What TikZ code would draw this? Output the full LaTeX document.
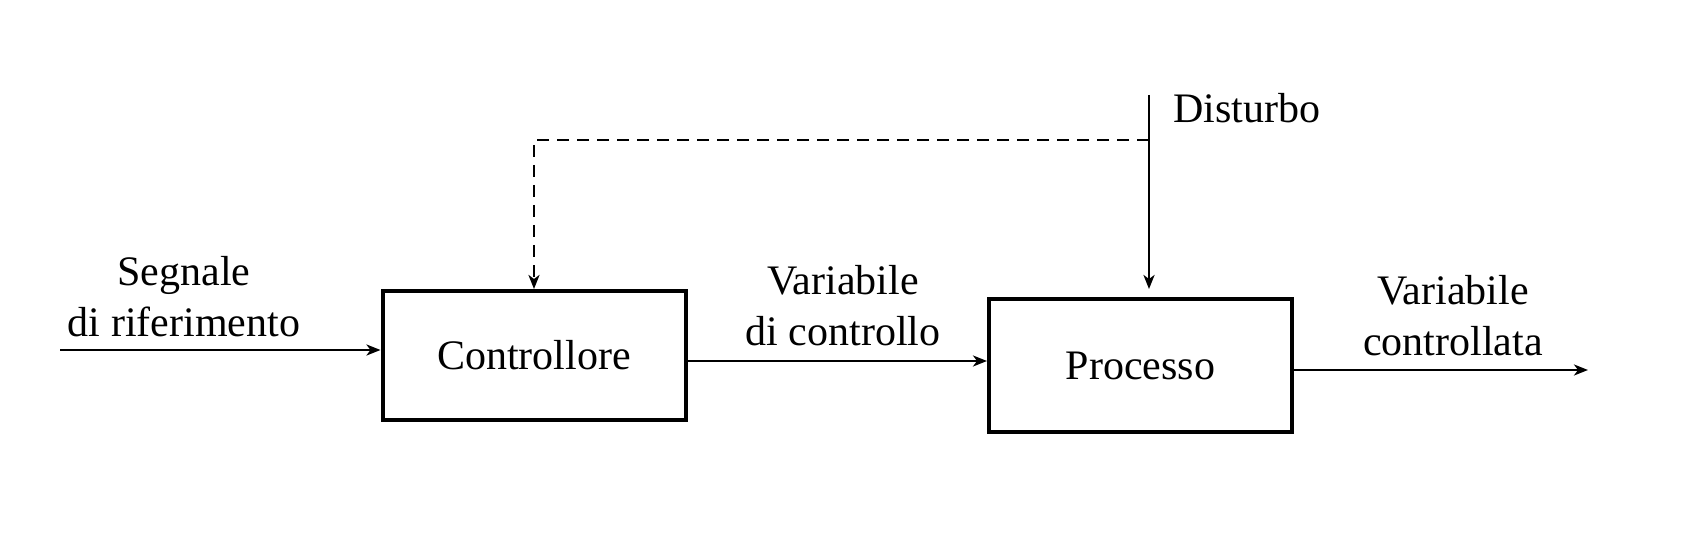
\documentclass[tikz,border=0pt]{standalone}
\usepackage{fontspec}
\setmainfont{Liberation Serif}
\usetikzlibrary{arrows.meta}
\usetikzlibrary{calc}

\tikzset{
	blok/.style={draw, line width=2pt, minimum width=151.5pt, font=\fontsize{21}{26}\selectfont},
	lbl/.style={align=center, font=\fontsize{21}{25.5}\selectfont},
	arr/.style={line width=1.4pt, -{Stealth[length=7pt,width=5.5pt,inset=2pt]}},
}

\begin{document}
\begin{tikzpicture}[x=0.5pt,y=-0.5pt]

	\useasboundingbox (0,0) rectangle (1700,534);

	% blocchi
	\node[blok, minimum height=64.5pt] (ctrl) at (534,355.5) {Controllore};
	\node[blok, minimum height=66.5pt] (proc) at (1140.5,365.5) {Processo};

	\coordinate (in) at (60,350);
	\coordinate (out) at (1588,370);
	\coordinate (dist) at (1149,95);
	\coordinate (tap) at (1149,140);

	\draw[arr] (in) -- (in -| ctrl.west); %riferimento
	\draw[arr] ([yshift=-2.75pt]ctrl.east) -- ([yshift=-2.75pt]ctrl.east -| proc.west);
	\draw[arr] (proc.east |- out) -- (out);
	\draw[arr, shorten >=4pt] (dist) -- (dist |- proc.north); %disturbo
	\draw[arr, dash pattern=on 6pt off 4pt] (tap) -- (tap -| ctrl.north) -- (ctrl.north);

	\node[lbl] (rif) at (184,297) {Segnale\\di riferimento};
	\node[lbl] (uc) at (843,306) {Variabile\\di controllo};
	\node[lbl] (yc) at (1453,316) {Variabile\\controllata};
	\node[lbl, anchor=west] (dlbl) at (1166,108) {Disturbo};

\end{tikzpicture}
\end{document}
